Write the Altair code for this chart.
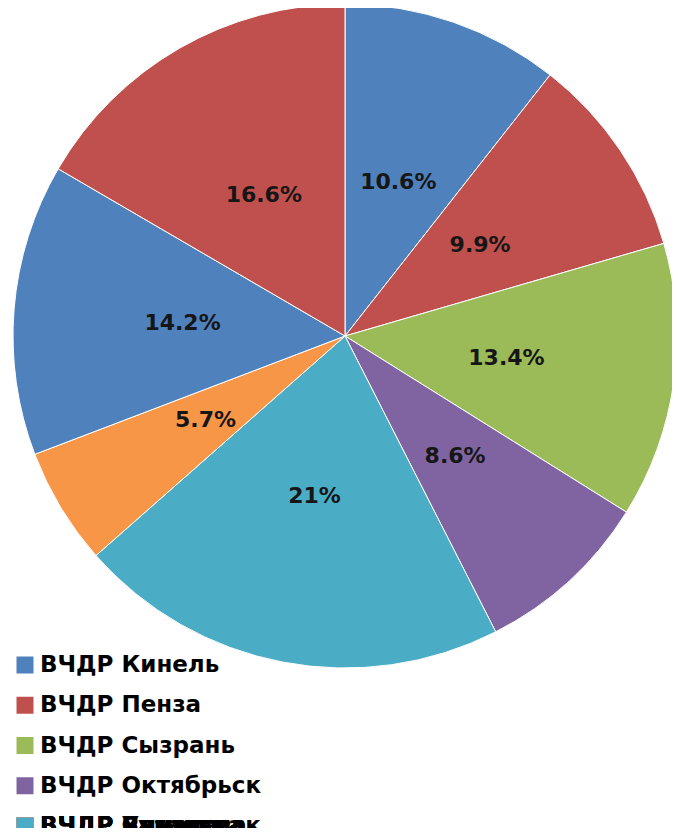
import altair as alt
import pandas as pd

# Slices, clockwise from 12 o'clock
names = ["ВЧДР Кинель", "ВЧДР Пенза", "ВЧДР Сызрань", "ВЧДР Октябрьск",
         "ВЧДР Ульяновск", "ВЧДР Рузаевка", "ВЧДР Бугульма", "ВЧДР Самара"]
values = [10.6, 9.9, 13.4, 8.6, 21.0, 5.7, 14.2, 16.6]
labels = ["10.6%", "9.9%", "13.4%", "8.6%", "21%", "5.7%", "14.2%", "16.6%"]
colors = ["#4F81BD", "#C0504D", "#9BBB59", "#8064A2",
          "#4BACC6", "#F79646", "#4F81BD", "#C0504D"]
# legend rows (the last entries overlap on the fifth row, as in the original)
legend_rows = [0, 1, 2, 3, 4, 4, 4, 4]

df = pd.DataFrame({
    "name": names,
    "value": values,
    "label": labels,
    "order": list(range(len(names))),
    "row": legend_rows,
})

color_scale = alt.Scale(domain=names, range=colors)
FONT = "DejaVu Sans"

base = alt.Chart(df).encode(
    theta=alt.Theta("value:Q", stack=True),
    order=alt.Order("order:Q"),
)

pie = base.mark_arc(outerRadius=332, stroke="white", strokeWidth=1).encode(
    color=alt.Color("name:N", scale=color_scale, legend=None),
    x=alt.value(337), y=alt.value(328),
)

text = base.mark_text(radius=163, font=FONT, fontSize=22, fontWeight="bold",
                      color="#161616").encode(
    text="label:N",
    x=alt.value(337), y=alt.value(328),
)

row_scale = alt.Scale(domain=[0, 4], range=[657, 818])

leg_sq = alt.Chart(df).mark_square(size=289, opacity=1).encode(
    y=alt.Y("row:Q", scale=row_scale, axis=None),
    x=alt.value(17),
    color=alt.Color("name:N", scale=color_scale, legend=None),
    order=alt.Order("order:Q", sort="descending"),
)

leg_txt = alt.Chart(df).mark_text(align="left", baseline="middle", font=FONT,
                                  fontSize=23, fontWeight="bold",
                                  color="#000000").encode(
    y=alt.Y("row:Q", scale=row_scale, axis=None),
    x=alt.value(32),
    text="name:N",
)

chart = alt.layer(pie, text, leg_sq, leg_txt).properties(
    width=664, height=820,
    autosize=alt.AutoSizeParams(type="none"),
    padding=0,
).configure_view(stroke=None)

chart.save("out.html", embed_options={"renderer": "svg", "actions": False})
